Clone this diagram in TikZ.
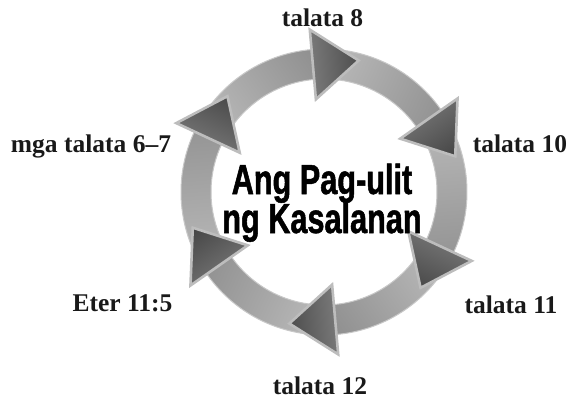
\documentclass[tikz,border=0pt]{standalone}
\usepackage{fontspec}
\setmainfont{Liberation Serif}
\newfontfamily\condfont[FakeStretch=0.73,FakeBold=1.2]{Liberation Sans}
\definecolor{shA}{HTML}{CDCDCD}
\definecolor{shB}{HTML}{848484}
\definecolor{hdA}{HTML}{929292}
\definecolor{hdB}{HTML}{363636}
\definecolor{shEdge}{HTML}{C8C8C8}
\definecolor{hdEdge}{HTML}{BDBDBD}
\pgfdeclarehorizontalshading{shaftsh}{100bp}{color(0bp)=(shA); color(100bp)=(shB)}
\pgfdeclarehorizontalshading{headsh}{100bp}{color(0bp)=(hdA); color(100bp)=(hdB)}
\tikzset{
  lbl/.style={anchor=base, inner sep=0pt, text=black!90, font=\fontsize{25.5}{30}\selectfont\bfseries},
  ctitle/.style={anchor=base, inner sep=0pt, font=\condfont\fontsize{42}{46}\selectfont\bfseries},
  shaftstyle/.style={shading=shaftsh, draw=shEdge, line width=1pt},
  headstyle/.style={shading=headsh, draw=hdEdge, line width=2.6pt, line join=miter}
}
\begin{document}
\begin{tikzpicture}[x=1pt,y=1pt]
\path[use as bounding box] (0,0) rectangle (570,400);
\begin{scope}[shift={(324,208)}]
  \foreach \k in {0,...,5}{
    \pgfmathsetmacro\ba{95-60*\k}
    \pgfmathsetmacro\ta{\ba+60}
    \pgfmathsetmacro\sa{\ba-60}
    \path[shaftstyle, shading angle=\sa]
      (\ta:143) arc[start angle=\ta, end angle=\ba, radius=143]
      -- (\ba:113) arc[start angle=\ba, end angle=\ta, radius=113] -- cycle;
  }
  \foreach \k in {0,...,5}{
    \pgfmathsetmacro\ba{95-60*\k}
    \pgfmathsetmacro\ha{\ba-90}
    \pgfmathsetmacro\tx{128*cos(\ba)+46*cos(\ba-90)}
    \pgfmathsetmacro\ty{128*sin(\ba)+46*sin(\ba-90)}
    \path[headstyle, shading angle=\ha]
      (\ba:163) -- (\tx,\ty) -- (\ba:93) -- cycle;
  }
\end{scope}
\node[ctitle] (t1) at (322,206) {Ang Pag-ulit};
\node[ctitle] (t2) at (322,167) {ng Kasalanan};
\node[lbl] (l8) at (322.5,373) {talata 8};
\node[lbl] (l10) at (520,248) {talata 10};
\node[lbl] (l11) at (511,87) {talata 11};
\node[lbl] (l12) at (320,6) {talata 12};
\node[lbl] (le) at (122.5,89) {Eter 11:5};
\node[lbl] (l67) at (91,248) {mga talata 6–7};
\end{tikzpicture}
\end{document}
